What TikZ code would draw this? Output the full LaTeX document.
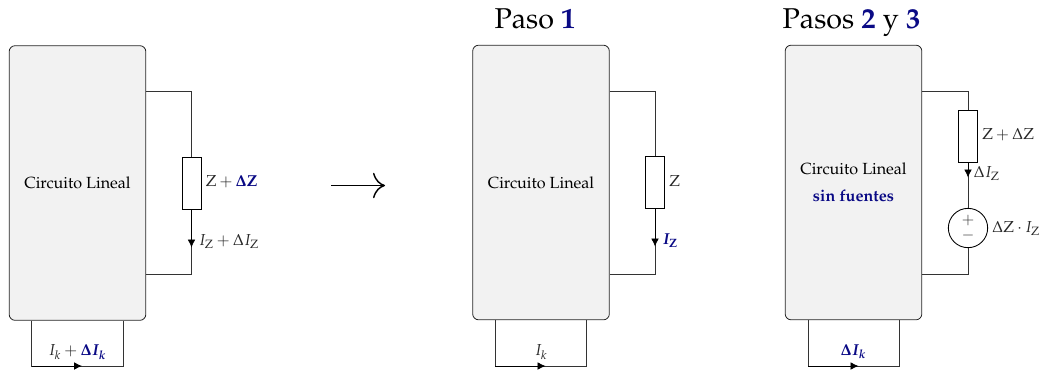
\documentclass[tikz,border=0pt]{standalone}
\usepackage[T1]{fontenc}
\usepackage{xcolor}
\usepackage{amsmath, amssymb}
\usepackage{mathpazo}
\usepackage{bm}
\usepackage{tikz}
\usetikzlibrary{arrows.meta, positioning, calc}
\definecolor{pasoblue}{HTML}{0A0A85}
\definecolor{cktfill}{HTML}{F2F2F2}
\definecolor{wiregray}{HTML}{333333}
\newcommand{\azul}[1]{\textcolor{pasoblue}{#1}}

\begin{document}
\begin{tikzpicture}[
  x=0.75pt, y=-0.75pt,
  ckt/.style={draw=black!85, fill=cktfill, rounded corners=4.5pt, minimum width=102.5pt,
              minimum height=206pt, inner sep=0pt, line width=0.6pt, align=center,
              font=\fontsize{12.1}{15}\selectfont},
  res/.style={draw=black, fill=white, minimum width=14.2pt, minimum height=39pt,
              inner sep=0pt, line width=0.65pt},
  src/.style={draw=black, fill=white, circle, minimum size=29.5pt, inner sep=0pt,
              line width=0.65pt, align=center, font=\fontsize{11.5}{11.4}\selectfont, text=black!80},
  wire/.style={draw=wiregray, line width=0.6pt},
  arr/.style={-{Latex[length=6pt, width=5.8pt]}, black, line width=0.6pt},
  big/.style={-{Computer Modern Rightarrow[length=9pt, width=19pt]}, black, line width=1.1pt},
  lbl/.style={font=\fontsize{11.9}{13}\selectfont, inner sep=0pt, text=black!85},
  titulo/.style={font=\fontsize{21.5}{24}\selectfont, inner sep=0pt, anchor=base, text=black},
]
  \useasboundingbox (0,0) rectangle (1041,369);

  % circuito original
  \node[ckt] (lin1) at (77.5,183) {Circuito Lineal};
  \node[res] (res1) at (191.5,183) {};
  \coordinate (sup1) at (191.5,91);
  \coordinate (inf1) at (191.5,274);
  \coordinate (tip1) at (191.5,247.5);
  \coordinate (lazoa1) at (31.5,366);
  \coordinate (lazob1) at (123,366);
  \coordinate (lazom1) at (82,366);
  \draw[wire] (lin1.east |- sup1) -- (sup1) -- (res1);
  \draw[wire] (res1) -- (inf1) -- (lin1.east |- inf1);
  \draw[arr] (res1) -- (tip1);
  \draw[wire] (lazoa1 |- lin1.south) -- (lazoa1) -- (lazob1) -- (lazob1 |- lin1.south);
  \draw[arr] (lazoa1) -- (lazom1);
  \node[lbl, anchor=west] (z1) at (205.5,182) {$\mathrm{Z}+\azul{\bm{\Delta}\mathbf{Z}}$};
  \node[lbl, anchor=west] (iz1) at (198.5,241.5) {$I_{\mathrm{Z}}+\Delta I_{\mathrm{Z}}$};
  \node[lbl] (ik1) at (77.5,352) {$I_k+\azul{\bm{\Delta I_k}}$};

  % flecha
  \coordinate (flechaa) at (331,185.5);
  \coordinate (flechab) at (385,185.5);
  \draw[big] (flechaa) -- (flechab);

  % paso 1
  \node[titulo] (paso1) at (535,28.5) {Paso \azul{\textbf{1}}};
  \node[ckt] (lin2) at (541,182.5) {Circuito Lineal};
  \node[res] (res2) at (655,182) {};
  \coordinate (sup2) at (655,91);
  \coordinate (inf2) at (655,274);
  \coordinate (tip2) at (655,246.5);
  \coordinate (lazoa2) at (495,366);
  \coordinate (lazob2) at (586.5,366);
  \coordinate (lazom2) at (545.5,366);
  \draw[wire] (lin2.east |- sup2) -- (sup2) -- (res2);
  \draw[wire] (res2) -- (inf2) -- (lin2.east |- inf2);
  \draw[arr] (res2) -- (tip2);
  \draw[wire] (lazoa2 |- lin2.south) -- (lazoa2) -- (lazob2) -- (lazob2 |- lin2.south);
  \draw[arr] (lazoa2) -- (lazom2);
  \node[lbl, anchor=west] (z2) at (669,181) {$\mathrm{Z}$};
  \node[lbl, anchor=west] (iz2) at (662,240.5) {$\azul{\bm{I_{\mathrm{Z}}}}$};
  \node[lbl] (ik2) at (541,352) {$I_k$};

  % pasos 2 y 3
  \node[titulo] (paso2) at (851.5,28.5) {Pasos \azul{\textbf{2}} y \azul{\textbf{3}}};
  \node[ckt] (lin3) at (853.5,182.5) {Circuito Lineal\\[5pt]\azul{\textbf{sin fuentes}}};
  \node[res] (res3) at (968,136) {};
  \node[src] (fem3) at (968,228) {$+$\\$-$};
  \coordinate (sup3) at (968,91);
  \coordinate (inf3) at (968,274);
  \coordinate (tip3) at (968,177.5);
  \coordinate (lazoa3) at (808,366);
  \coordinate (lazob3) at (899.5,366);
  \coordinate (lazom3) at (858.5,366);
  \draw[wire] (lin3.east |- sup3) -- (sup3) -- (res3);
  \draw[wire] (res3) -- (fem3);
  \draw[arr] (res3) -- (tip3);
  \draw[wire] (fem3) -- (inf3) -- (lin3.east |- inf3);
  \draw[wire] (lazoa3 |- lin3.south) -- (lazoa3) -- (lazob3) -- (lazob3 |- lin3.south);
  \draw[arr] (lazoa3) -- (lazom3);
  \node[lbl, anchor=west] (z3) at (982,135) {$\mathrm{Z}+\Delta\mathrm{Z}$};
  \node[lbl, anchor=west] (iz3) at (973.5,173) {$\Delta I_{\mathrm{Z}}$};
  \node[lbl, anchor=west] (dv3) at (992,228) {$\Delta\mathrm{Z}\cdot I_{\mathrm{Z}}$};
  \node[lbl] (ik3) at (853.5,352) {$\azul{\bm{\Delta I_k}}$};
\end{tikzpicture}
\end{document}
